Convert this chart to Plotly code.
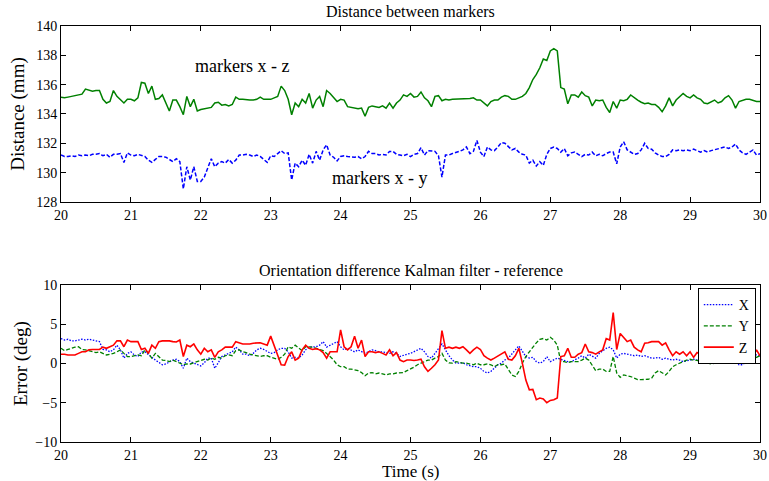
import numpy as np
import plotly.graph_objects as go

# time axis (s), 0.05 s sampling
time_s = np.round(20 + 0.05 * np.arange(201), 2)

dist_xz = [
    135.15,135.1,135.15,135.2,135.25,135.3,135.35,135.7,135.6,135.55,135.6,135.6,135.0,134.75,134.85,135.6,135.2,134.95,134.75,135.0,
    135.0,134.9,135.1,136.15,136.1,135.4,135.9,135.0,135.05,135.3,134.75,134.2,134.95,134.95,134.5,133.95,135.2,134.5,135.0,134.2,
    134.3,134.35,134.35,134.45,134.75,134.8,134.6,134.65,134.55,134.65,135.15,135.0,135.0,134.95,134.95,134.95,135.0,135.15,135.0,135.0,
    135.0,135.1,135.2,135.9,135.6,135.0,133.95,134.75,134.5,135.0,134.75,135.4,134.4,134.95,135.2,134.5,135.6,135.4,135.1,134.85,
    135.0,134.95,134.5,134.45,134.4,134.35,134.4,133.85,134.45,134.55,134.5,134.45,134.55,134.4,134.75,134.4,134.75,134.95,135.3,135.2,
    135.4,135.15,135.2,135.5,135.1,134.9,134.5,135.2,135.25,134.9,135.0,134.95,135.0,135.0,135.05,135.0,135.0,135.05,135.1,134.95,
    134.95,134.75,134.55,134.85,134.95,134.95,135.15,135.25,135.2,135.0,135.0,135.1,135.2,135.4,135.8,136.35,136.7,137.15,137.75,137.65,
    138.3,138.45,138.3,135.8,135.7,134.7,135.3,135.3,135.15,135.5,135.25,135.15,134.55,134.95,134.9,134.95,134.45,134.1,134.85,134.4,
    134.95,134.9,135.0,135.3,135.1,134.95,134.8,134.7,134.75,134.65,134.65,134.45,134.15,134.55,135.1,134.55,134.95,135.2,135.4,135.2,
    135.1,135.3,135.1,135.0,134.75,134.7,134.85,134.95,134.75,134.85,135.1,135.25,134.95,134.4,134.85,134.95,135.0,135.0,134.9,134.85,
    134.85,
]

dist_xy = [
    131.2,131.1,131.1,131.15,131.1,131.2,131.15,131.2,131.15,131.25,131.25,131.3,131.15,131.25,131.05,131.25,131.25,131.3,130.7,131.35,
    131.2,131.15,131.25,131.2,131.1,130.85,130.7,130.9,131.1,131.1,131.05,130.9,130.75,130.95,130.75,128.9,130.4,129.5,130.4,129.4,
    129.4,129.7,130.3,130.95,130.4,130.65,130.75,130.65,130.9,130.65,130.85,131.2,131.2,131.25,131.2,131.1,131.2,131.1,130.9,130.7,
    131.15,131.1,131.3,131.5,131.3,131.35,129.5,130.65,130.4,130.85,130.5,131.25,130.65,131.45,130.85,131.55,131.9,131.2,131.05,130.8,
    131.1,131.15,131.1,131.05,131.05,131.1,130.95,131.1,131.45,131.3,131.3,131.2,131.25,131.2,131.45,131.45,131.25,131.2,131.15,131.25,
    131.1,131.25,131.3,131.7,131.2,131.5,131.45,131.45,131.15,129.7,131.2,131.2,131.3,131.35,131.45,131.55,131.75,131.3,131.45,132.2,
    131.4,131.1,131.75,131.55,131.5,131.75,132.05,132.0,131.75,131.55,131.65,131.4,131.25,131.2,130.65,130.85,130.45,130.75,130.5,131.25,
    131.65,131.75,131.65,131.4,131.65,131.15,131.35,131.4,131.25,131.1,131.25,131.2,131.4,131.15,131.25,131.15,131.3,131.4,131.4,130.6,
    131.75,132.1,131.55,131.4,131.25,131.3,131.55,132.0,131.65,131.6,131.35,131.2,131.1,131.1,131.25,131.55,131.5,131.55,131.5,131.55,
    131.5,131.6,131.5,131.4,131.5,131.4,131.5,131.55,131.6,131.65,131.75,131.65,131.75,131.95,131.55,131.35,131.25,131.4,131.55,131.2,
    131.3,
]

err_x = [
    3.2,3.0,3.1,2.9,2.9,3.0,3.1,3.0,3.1,3.0,2.9,2.8,1.8,1.75,1.5,1.75,2.35,1.75,0.7,1.3,
    1.5,1.1,0.9,1.5,1.5,1.1,0.8,0.45,0.1,-0.15,-0.05,0.25,0.45,0.55,0.25,-0.6,0.7,0.25,0.05,-0.15,
    -0.3,0.1,0.7,0.7,-0.6,0.1,0.9,1.1,1.3,1.5,2.1,1.75,1.2,1.2,1.0,1.3,1.75,1.95,1.8,1.5,
    1.3,1.4,1.75,1.95,1.95,1.5,0.7,0.8,0.7,1.1,1.75,2.1,2.1,2.15,2.35,2.8,2.1,2.35,2.6,2.8,
    2.15,1.75,1.95,1.75,1.5,1.75,1.5,1.3,1.5,1.75,1.65,1.5,1.5,1.4,1.3,1.5,1.3,0.9,1.1,1.2,
    1.3,1.5,1.8,1.95,1.5,0.9,0.7,1.3,1.95,2.5,1.75,1.0,0.45,0.05,0.05,0.1,-0.15,-0.3,-0.4,-0.4,
    -0.6,-1.0,-1.2,-1.0,-0.6,-0.15,0.05,0.45,0.7,1.3,1.75,2.25,1.5,0.9,0.7,0.8,0.25,0.05,0.25,0.9,
    0.25,0.45,0.7,0.55,0.4,0.25,0.25,0.45,0.7,1.0,0.7,1.2,1.0,0.7,1.3,1.65,1.95,2.1,1.75,0.7,
    1.2,1.3,1.2,1.1,1.0,1.1,0.9,1.0,0.8,0.7,0.7,0.8,0.55,0.7,0.55,0.45,0.55,0.45,0.25,0.35,
    0.45,0.55,0.45,0.7,0.55,0.45,0.35,0.55,0.7,0.45,0.55,0.7,0.9,0.45,-0.15,-0.15,0.25,0.7,1.0,1.1,
    0.9,
]

err_y = [
    1.95,1.65,1.8,1.95,2.1,2.15,1.8,1.75,1.65,1.5,1.4,1.5,1.3,1.1,1.2,1.3,1.5,1.75,1.3,0.9,
    0.9,1.0,1.1,1.0,1.75,1.3,0.7,1.3,0.9,0.45,0.4,0.25,0.45,0.25,0.05,-0.15,-0.05,-0.05,0.1,0.25,
    0.45,0.55,0.45,0.7,0.55,0.8,0.7,1.0,1.1,1.0,1.65,1.75,1.5,1.4,1.2,1.1,1.0,0.9,1.0,1.0,
    0.8,0.7,0.55,0.8,1.2,2.15,1.95,2.35,1.95,1.65,2.15,2.15,2.1,1.95,1.8,1.65,1.3,0.9,0.45,-0.15,
    -0.4,-0.4,-0.7,-0.7,-0.8,-0.9,-1.15,-1.55,-1.2,-1.15,-1.3,-1.2,-1.3,-1.45,-1.3,-1.3,-1.2,-1.2,-1.15,-0.9,
    -0.7,-0.45,-0.15,0.1,0.25,0.45,0.45,0.7,0.9,1.3,0.45,0.1,0.05,0.25,0.1,0.05,0.05,-0.05,-0.15,0.05,
    -0.15,-0.15,-0.05,-0.15,-0.4,-0.15,-0.15,-0.05,-0.7,-1.45,-1.65,-1.0,0.05,0.9,1.5,2.15,2.65,3.1,3.2,3.0,
    3.35,3.0,2.35,0.25,0.25,0.1,0.25,0.25,0.25,0.45,0.7,0.45,-0.15,-0.9,-0.7,-0.7,-1.0,-1.0,0.9,-1.2,
    -1.75,-1.45,-1.55,-1.65,-1.85,-2.05,-2.05,-2.05,-2.0,-1.85,-1.2,-0.9,-1.15,-1.45,-1.0,-0.4,-0.15,0.1,0.25,0.45,
    0.55,0.45,0.4,0.25,0.1,0.05,-0.05,0.05,0.1,0.25,0.4,0.45,0.25,0.05,0.25,0.7,0.45,0.25,0.45,0.8,
    1.0,
]

err_z = [
    1.2,1.2,1.1,1.1,1.1,1.3,1.5,1.5,1.75,1.8,1.8,1.8,2.1,1.95,2.15,2.35,2.9,2.9,2.15,3.0,
    2.8,2.8,2.8,1.8,1.95,1.3,2.35,1.95,2.8,2.9,2.9,2.9,2.8,2.75,3.0,0.9,2.35,2.15,2.5,1.75,
    1.2,1.95,1.5,1.75,0.8,1.5,1.75,2.1,2.1,2.1,2.8,2.6,2.5,2.5,2.5,2.6,2.6,2.65,2.5,2.35,
    3.5,2.35,1.1,-0.15,-0.2,0.9,1.5,0.45,0.7,1.75,2.35,1.95,1.8,1.9,1.75,1.4,0.7,1.5,1.5,1.5,
    4.3,2.15,1.75,2.15,3.5,1.95,3.0,0.9,1.5,1.5,1.4,1.5,1.3,1.1,1.75,1.0,1.4,0.45,0.25,0.45,
    0.45,0.4,0.45,0.55,-0.4,-1.0,-0.6,-0.15,0.45,4.2,1.95,2.1,1.95,2.1,1.95,2.15,1.75,1.3,1.75,2.1,
    1.8,1.0,0.7,0.45,0.7,1.0,1.3,1.5,0.55,0.45,1.0,1.95,0.05,-2.1,-3.35,-3.3,-4.6,-4.4,-4.5,-5.0,
    -4.7,-4.6,-4.4,0.9,1.0,1.95,0.8,0.8,1.2,1.4,2.5,1.5,1.4,1.2,1.5,1.75,3.2,3.0,6.5,1.8,
    3.85,3.35,2.8,3.0,2.1,1.75,1.5,2.6,2.65,2.8,2.8,2.8,2.35,2.65,1.75,1.0,1.5,1.2,1.5,1.0,
    1.5,0.8,1.4,1.2,1.75,1.8,1.75,1.8,1.75,1.8,1.75,1.5,1.8,2.35,1.2,1.5,0.8,1.0,0.9,1.75,
    1.0,
]

FONT = "Liberation Serif"

fig = go.Figure()
fig.add_trace(go.Scatter(x=time_s, y=dist_xz, mode="lines", line=dict(color="#008000", width=1.5),
                         showlegend=False, xaxis="x", yaxis="y"))
fig.add_trace(go.Scatter(x=time_s, y=dist_xy, mode="lines", line=dict(color="#0000ff", width=1.5, dash="4px,2px"),
                         showlegend=False, xaxis="x", yaxis="y"))
fig.add_trace(go.Scatter(x=time_s, y=err_x, mode="lines", name="X",
                         line=dict(color="#0000ff", width=1.3, dash="1.5px,1.5px"), xaxis="x2", yaxis="y2"))
fig.add_trace(go.Scatter(x=time_s, y=err_y, mode="lines", name="Y",
                         line=dict(color="#008000", width=1.3, dash="4px,2px"), xaxis="x2", yaxis="y2"))
fig.add_trace(go.Scatter(x=time_s, y=err_z, mode="lines", name="Z",
                         line=dict(color="#ff0000", width=1.6), xaxis="x2", yaxis="y2"))

axis_common = dict(showline=True, linecolor="black", linewidth=1, mirror="ticks", ticks="inside",
                   ticklen=5, tickcolor="black", showgrid=False, zeroline=False,
                   tickfont=dict(family=FONT, size=14, color="black"))

fig.update_layout(
    width=769, height=481,
    margin=dict(l=61, r=2, t=26, b=39),
    plot_bgcolor="white", paper_bgcolor="white",
    font=dict(family=FONT, color="black"),
    xaxis=dict(domain=[0, 1], anchor="y", range=[20, 30], dtick=1, ticklabeloverflow="allow", **axis_common),
    yaxis=dict(domain=[0.577, 1], anchor="x", range=[128, 140], dtick=2,
               title=dict(text="Distance (mm)", font=dict(family=FONT, size=19), standoff=6), **axis_common),
    xaxis2=dict(domain=[0, 1], anchor="y2", range=[20, 30], dtick=1, ticklabeloverflow="allow", **axis_common),
    yaxis2=dict(domain=[0, 0.377], anchor="x2", range=[-10, 10], dtick=5,
                title=dict(text="Error (deg)", font=dict(family=FONT, size=19), standoff=2), **axis_common),
    legend=dict(x=0.994, y=0.37, xanchor="right", yanchor="top", bgcolor="white",
                bordercolor="black", borderwidth=1, font=dict(family=FONT, size=14),
                tracegroupgap=0, itemwidth=30),
    annotations=[
        dict(text="Distance between markers", xref="paper", yref="paper", x=0.5, y=1.036,
             showarrow=False, font=dict(family=FONT, size=16), yanchor="middle"),
        dict(text="Orientation difference Kalman filter - reference", xref="paper", yref="paper",
             x=0.5, y=0.413, showarrow=False, font=dict(family=FONT, size=16), yanchor="middle"),
        dict(text="Time (s)", xref="paper", yref="paper", x=0.5, y=-0.072,
             showarrow=False, font=dict(family=FONT, size=17), yanchor="middle"),
        dict(text="markers x - z", xref="x", yref="y", x=22.59, y=137.3, showarrow=False,
             font=dict(family=FONT, size=18)),
        dict(text="markers x - y", xref="x", yref="y", x=24.55, y=129.64, showarrow=False,
             font=dict(family=FONT, size=18)),
    ],
)

fig.write_html("out.html")
